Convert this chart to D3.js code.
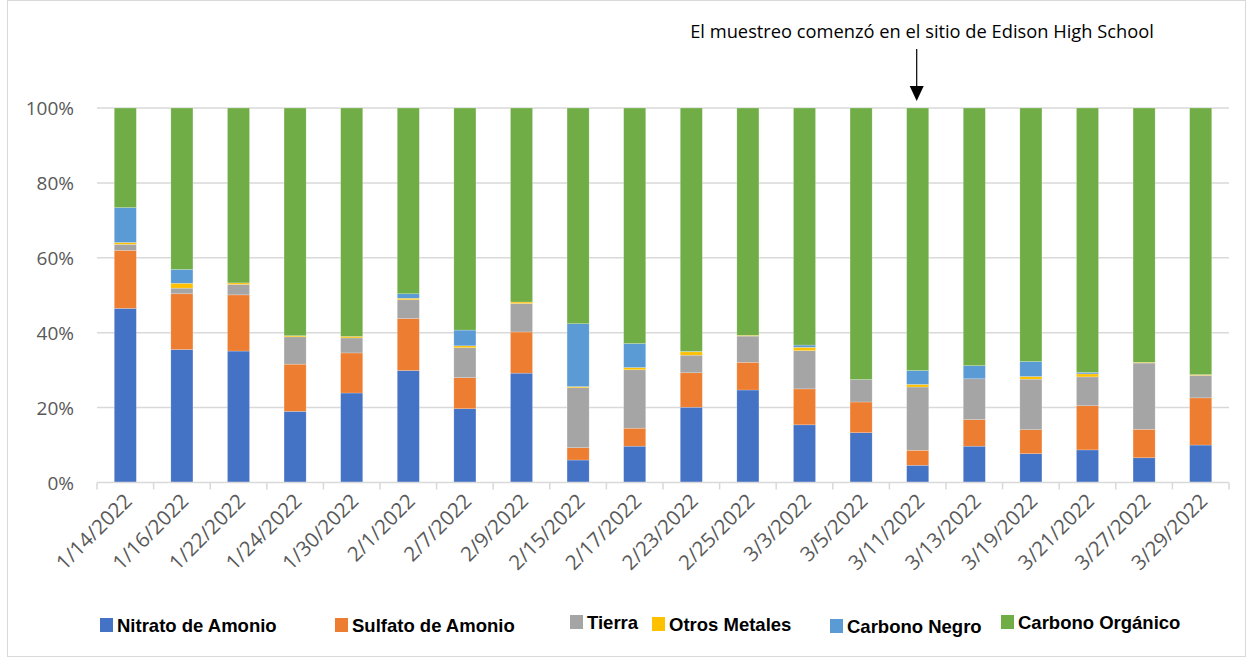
<!DOCTYPE html>
<html>
<head>
<meta charset="utf-8">
<script src="https://cdn.jsdelivr.net/npm/d3@7"></script>
<style>
  body { margin: 0; background: #fff; }
  svg { display: block; }
</style>
</head>
<body>
<div id="chart"></div>
<script>
// Sample dates (categories)
var dates = ["1/14/2022", "1/16/2022", "1/22/2022", "1/24/2022", "1/30/2022", "2/1/2022",
  "2/7/2022", "2/9/2022", "2/15/2022", "2/17/2022", "2/23/2022", "2/25/2022", "3/3/2022",
  "3/5/2022", "3/11/2022", "3/13/2022", "3/19/2022", "3/21/2022", "3/27/2022", "3/29/2022"];

var seriesNames = ["Nitrato de Amonio", "Sulfato de Amonio", "Tierra", "Otros Metales",
  "Carbono Negro", "Carbono Orgánico"];

// Percent shares
var nitrato = [46.5, 35.5, 35.1, 19.0, 23.9, 29.9, 19.7, 29.2, 6.0, 9.7, 20.1, 24.7, 15.4, 13.3, 4.6, 9.7, 7.7, 8.7, 6.6, 10.0];
var sulfato = [15.5, 14.9, 15.0, 12.6, 10.7, 13.9, 8.3, 11.0, 3.3, 4.8, 9.2, 7.4, 9.6, 8.2, 4.0, 7.1, 6.4, 11.8, 7.6, 12.6];
var tierra = [1.6, 1.5, 2.8, 7.3, 4.0, 5.0, 8.0, 7.6, 16.0, 15.6, 4.7, 7.0, 10.2, 6.0, 16.9, 10.9, 13.5, 7.7, 17.7, 6.0];
var otrosMetales = [0.5, 1.3, 0.4, 0.3, 0.4, 0.4, 0.5, 0.4, 0.3, 0.6, 0.9, 0.2, 0.9, 0.0, 0.7, 0.0, 0.7, 0.8, 0.2, 0.2];
var carbonoNegro = [9.3, 3.7, 0.0, 0.0, 0.0, 1.2, 4.2, 0.0, 16.8, 6.4, 0.1, 0.0, 0.6, 0.0, 3.7, 3.5, 4.0, 0.4, 0.0, 0.0];
var carbonoOrganico = [26.6, 43.1, 46.7, 60.8, 61.0, 49.6, 59.3, 51.8, 57.6, 62.9, 65.0, 60.7, 63.3, 72.5, 70.1, 68.8, 67.7, 70.6, 67.9, 71.2];

var yTicks = [0, 0.2, 0.4, 0.6, 0.8, 1];
var colors = ["#4472C4", "#ED7D31", "#A5A5A5", "#FFC000", "#5B9BD5", "#70AD47"];

var width = 1252,
  height = 658,
  margin = { top: 108, right: 23, bottom: 175.5, left: 97 };

var svg = d3.select("#chart").append("svg")
  .attr("width", width)
  .attr("height", height)
  .style("font-family", "'Open Sans', sans-serif");

// chart frame
svg.append("rect")
  .attr("x", 7.5).attr("y", 0.5)
  .attr("width", 1238).attr("height", 656)
  .attr("fill", "none").attr("stroke", "#d9d9d9");

var rows = dates.map(function (d, i) {
  return {
    date: d,
    "Nitrato de Amonio": nitrato[i],
    "Sulfato de Amonio": sulfato[i],
    "Tierra": tierra[i],
    "Otros Metales": otrosMetales[i],
    "Carbono Negro": carbonoNegro[i],
    "Carbono Orgánico": carbonoOrganico[i]
  };
});

var stack = d3.stack().keys(seriesNames).offset(d3.stackOffsetExpand);
var layers = stack(rows);

var x = d3.scaleBand()
  .domain(dates)
  .range([margin.left, width - margin.right])
  .paddingInner(0.61)
  .paddingOuter(0.305);

var y = d3.scaleLinear()
  .domain([0, 1])
  .range([height - margin.bottom, margin.top]);

// gridlines
svg.append("g")
  .selectAll("line")
  .data(yTicks.slice(1))
  .enter().append("line")
  .attr("x1", margin.left)
  .attr("x2", width - margin.right)
  .attr("y1", function (d) { return y(d); })
  .attr("y2", function (d) { return y(d); })
  .attr("stroke", "#d9d9d9")
  .attr("stroke-width", 1.5);

// y labels
svg.append("g")
  .selectAll("text")
  .data(yTicks)
  .enter().append("text")
  .attr("x", 74)
  .attr("y", function (d) { return y(d) + 7; })
  .attr("text-anchor", "end")
  .attr("fill", "#595959")
  .style("font-size", "19px")
  .text(d3.format(".0%"));

// stacked bars
svg.append("g")
  .selectAll("g")
  .data(layers)
  .enter().append("g")
  .attr("fill", function (d, i) { return colors[i]; })
  .selectAll("rect")
  .data(function (d) { return d; })
  .enter().append("rect")
  .attr("x", function (d) { return x(d.data.date); })
  .attr("width", x.bandwidth())
  .attr("y", function (d) { return y(d[1]); })
  .attr("height", function (d) { return y(d[0]) - y(d[1]); })
  .attr("stroke", "#ffffff")
  .attr("stroke-opacity", 0.35)
  .attr("stroke-width", 0.6);

// category axis
var step = x.step(),
  x0 = margin.left,
  axisY = y(0);
svg.append("line")
  .attr("x1", x0).attr("x2", width - margin.right)
  .attr("y1", axisY).attr("y2", axisY)
  .attr("stroke", "#d9d9d9").attr("stroke-width", 1.5);

svg.append("g")
  .selectAll("line")
  .data(d3.range(dates.length + 1))
  .enter().append("line")
  .attr("x1", function (i) { return x0 + i * step; })
  .attr("x2", function (i) { return x0 + i * step; })
  .attr("y1", axisY).attr("y2", axisY + 7)
  .attr("stroke", "#d9d9d9").attr("stroke-width", 1.5);

svg.append("g")
  .selectAll("text")
  .data(dates)
  .enter().append("text")
  .attr("transform", function (d) {
    return "translate(" + (x(d) + x.bandwidth() / 2 + 8) + "," + (axisY + 20) + ") rotate(-45)";
  })
  .attr("text-anchor", "end")
  .attr("fill", "#595959")
  .style("font-size", "20.5px")
  .text(function (d) { return d; });

// annotation with arrow over the 3/11 bar
var annX = x("3/11/2022") + x.bandwidth() / 2 - 1;
svg.append("text")
  .attr("x", 922)
  .attr("y", 38)
  .attr("text-anchor", "middle")
  .attr("fill", "#000")
  .style("font-size", "18.3px")
  .text("El muestreo comenzó en el sitio de Edison High School");

svg.append("line")
  .attr("x1", annX).attr("x2", annX)
  .attr("y1", 49).attr("y2", 88)
  .attr("stroke", "#000").attr("stroke-width", 1.2);
svg.append("path")
  .attr("d", "M" + (annX - 7) + ",86L" + (annX + 7) + ",86L" + annX + ",101Z")
  .attr("fill", "#000");

// legend
var legendPos = [
  { x: 100, ty: 632 },
  { x: 335, ty: 632 },
  { x: 570, ty: 629 },
  { x: 652, ty: 631 },
  { x: 830, ty: 633 },
  { x: 1001, ty: 629 }
];
var legend = svg.append("g")
  .selectAll("g")
  .data(seriesNames)
  .enter().append("g");

legend.append("rect")
  .attr("x", function (d, i) { return legendPos[i].x; })
  .attr("y", function (d, i) { return legendPos[i].ty - 14; })
  .attr("width", 13)
  .attr("height", 14)
  .attr("fill", function (d, i) { return colors[i]; });

legend.append("text")
  .attr("x", function (d, i) { return legendPos[i].x + 17; })
  .attr("y", function (d, i) { return legendPos[i].ty; })
  .style("font-family", "'Liberation Sans', Arial, sans-serif")
  .style("font-weight", "bold")
  .style("font-size", "18.5px")
  .attr("fill", "#000")
  .text(function (d) { return d; });
</script>
</body>
</html>
